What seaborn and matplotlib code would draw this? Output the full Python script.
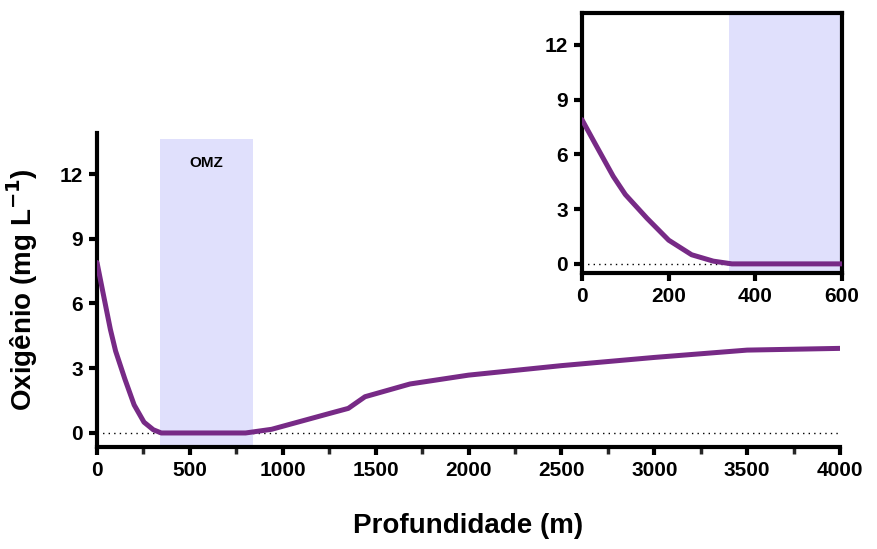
import numpy as np
import pandas as pd
import matplotlib
matplotlib.use('Agg')
import matplotlib.pyplot as plt
import seaborn as sns

#=====================
# DATA
#=====================
depth = [0, 30, 72, 100, 150, 200, 253, 303, 346, 500, 600, 800, 940, 1254, 1353,
         1443, 1685, 2000, 2500, 3000, 3500, 4000]
oxygen = [7.9, 6.6, 4.8, 3.8, 2.5, 1.3, 0.5, 0.15, 0.0, 0.0, 0.0, 0.0, 0.17, 0.91, 1.14,
          1.68, 2.27, 2.68, 3.12, 3.5, 3.84, 3.92]
omz_start, omz_end = 340, 840
omz_label = 'OMZ'

main_xticks = [0, 500, 1000, 1500, 2000, 2500, 3000, 3500, 4000]
main_yticks = [0, 3, 6, 9, 12]
inset_xticks = [0, 200, 400, 600]

df = pd.DataFrame({'depth': depth, 'oxygen': oxygen})

#=====================
# STYLE
#=====================
sns.set_style('ticks')
plt.rcParams['font.family'] = ['Liberation Sans', 'DejaVu Sans']
plt.rcParams['font.weight'] = 'bold'
plt.rcParams['text.color'] = 'black'
plt.rcParams['axes.labelcolor'] = 'black'

line_color = '#772a86'
shade_color = '#e0e0fc'

fig = plt.figure(figsize=(8.77, 5.49), dpi=100, facecolor='white')


def style_axes(ax, full_box=False):
    for side in ['left', 'bottom', 'top', 'right']:
        ax.spines[side].set_linewidth(3)
        ax.spines[side].set_color('black')
        ax.spines[side].set_visible(full_box or side in ['left', 'bottom'])
    ax.tick_params(axis='both', which='major', direction='out', length=6,
                   width=3, labelsize=15, pad=4, colors='black')
    ax.tick_params(axis='x', which='minor', direction='out', length=5, width=2.5)
    for lab in ax.get_xticklabels() + ax.get_yticklabels():
        lab.set_fontweight('bold')
    ax.grid(False)


#=====================
# MAIN PANEL
#=====================
ax = fig.add_axes([97 / 877, 1 - 447 / 549, 743 / 877, 314 / 549])
ax.axvspan(omz_start, omz_end, ymin=0, ymax=(13.6 + 0.65) / (13.9 + 0.65),
           color=shade_color, lw=0, zorder=0)
ax.axhline(0, color='black', ls=(0, (1, 3)), lw=1, zorder=1)
sns.lineplot(data=df, x='depth', y='oxygen', ax=ax, color=line_color,
             linewidth=3.6, sort=False, zorder=3)
ax.set_xlim(0, 4000)
ax.set_ylim(-0.65, 13.9)
ax.set_xticks(main_xticks)
ax.set_xticks(np.arange(250, 4000, 500), minor=True)
ax.set_yticks(main_yticks)
ax.text((omz_start + omz_end) / 2, 12.5, omz_label, ha='center', va='center',
        fontsize=11, fontweight='bold')
ax.set_xlabel('Profundidade (m)', fontsize=20, fontweight='bold', labelpad=24)
ax.set_ylabel('Oxigênio (mg L$^{\\mathbf{-1}}$)', fontsize=20,
              fontweight='bold', labelpad=14)
style_axes(ax)

#=====================
# INSET
#=====================
axi = fig.add_axes([582 / 877, 1 - 273 / 549, 260 / 877, 260 / 549])
axi.axvspan(omz_start, 600, color=shade_color, lw=0, zorder=0)
axi.axhline(0, color='black', ls=(0, (1, 3)), lw=1, zorder=1)
sns.lineplot(data=df[df['depth'] <= 600], x='depth', y='oxygen', ax=axi,
             color=line_color, linewidth=3.6, sort=False, zorder=3)
axi.set_xlim(0, 600)
axi.set_ylim(-0.5, 13.75)
axi.set_xticks(inset_xticks)
axi.set_yticks(main_yticks)
axi.set_xlabel('')
axi.set_ylabel('')
style_axes(axi, full_box=True)

fig.savefig('out.png', dpi=100, facecolor='white')
